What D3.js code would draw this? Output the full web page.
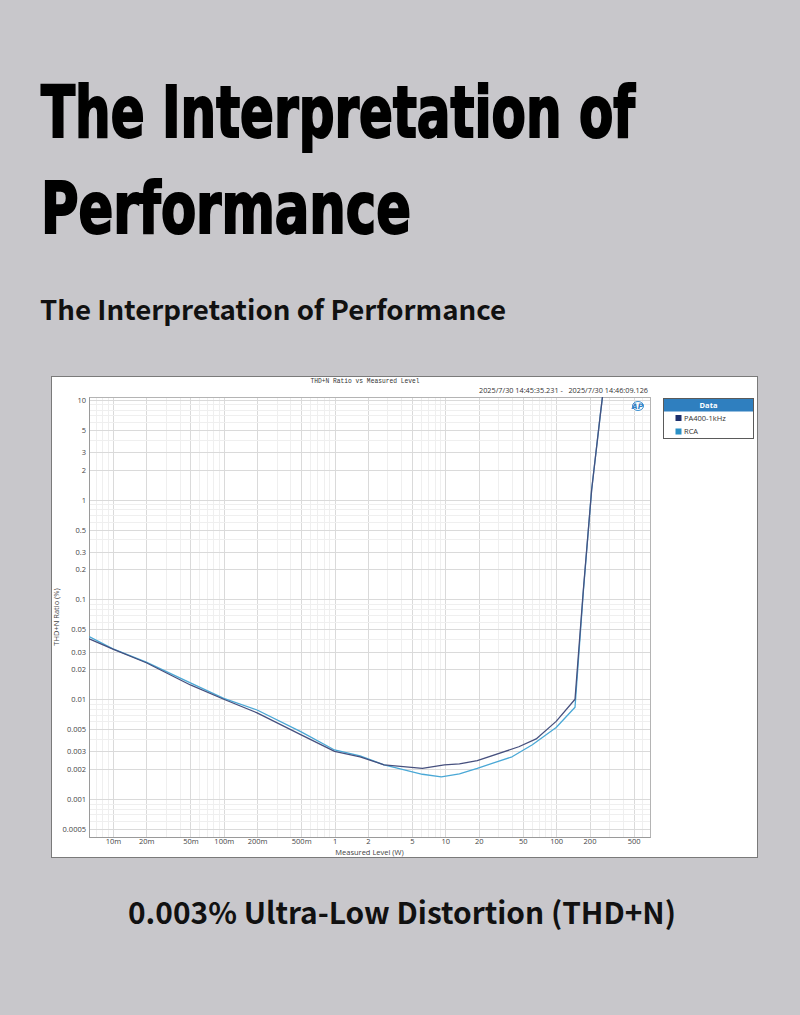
<!DOCTYPE html>
<html lang="en">
<head>
  <meta charset="UTF-8">
  <title>The Interpretation of Performance</title>
  <script src="https://d3js.org/d3.v7.min.js"></script>
  <style>
    body { margin: 0; background: #c8c7cb; }
    svg { display: block; }
  </style>
</head>
<body>
  <svg id="page" width="800" height="1015"></svg>

  <script>
    // measured level (W) and THD+N ratio (%)
    const levelsPA = [0.0061, 0.01, 0.02, 0.05, 0.1, 0.2, 0.5, 1, 1.7, 2.8, 6.2, 9.8, 13.4, 19.4, 46, 66, 100, 148, 176, 209, 250, 280];
    const thdPA = [0.0403, 0.0318, 0.0232, 0.0139, 0.0100, 0.0073, 0.0044, 0.0030, 0.00265, 0.0022, 0.00203, 0.0022, 0.00225, 0.00242, 0.00334, 0.0040, 0.0060, 0.0100, 0.125, 1.25, 7, 20];

    const levelsRCA = [0.0061, 0.01, 0.02, 0.05, 0.1, 0.2, 0.5, 1, 1.7, 2.8, 6.2, 9.2, 13.4, 19.4, 40, 61, 100, 148, 176, 209, 250, 280];
    const thdRCA = [0.0424, 0.032, 0.0235, 0.0146, 0.0102, 0.0078, 0.0047, 0.0031, 0.0027, 0.0022, 0.00177, 0.00167, 0.00179, 0.00203, 0.00265, 0.0035, 0.0052, 0.0083, 0.12, 1.25, 7, 20];

    const yTicks = [10, 5, 3, 2, 1, 0.5, 0.3, 0.2, 0.1, 0.05, 0.03, 0.02, 0.01, 0.005, 0.003, 0.002, 0.001, 0.0005];
    const xTicks = [0.01, 0.02, 0.05, 0.1, 0.2, 0.5, 1, 2, 5, 10, 20, 50, 100, 200, 500];
    const xTickLabels = ["10m", "20m", "50m", "100m", "200m", "500m", "1", "2", "5", "10", "20", "50", "100", "200", "500"];

    const seriesNames = ["PA400-1kHz", "RCA"];
    const lineColors = ["#46507e", "#4aa8d6"];
    const swatchColors = ["#1c2f6c", "#2a90c6"];

    const svg = d3.select("#page");

    // ---------- headings ----------
    svg.append("text")
      .attr("x", 41).attr("y", 137)
      .attr("font-family", "'Liberation Sans Narrow', 'DejaVu Sans Condensed', sans-serif")
      .attr("font-weight", "bold")
      .attr("font-size", 71)
      .attr("fill", "#000").attr("stroke", "#000").attr("stroke-width", 2)
      .attr("textLength", 594).attr("lengthAdjust", "spacingAndGlyphs")
      .text("The Interpretation of");

    svg.append("text")
      .attr("x", 41).attr("y", 233)
      .attr("font-family", "'Liberation Sans Narrow', 'DejaVu Sans Condensed', sans-serif")
      .attr("font-weight", "bold")
      .attr("font-size", 71)
      .attr("fill", "#000").attr("stroke", "#000").attr("stroke-width", 2)
      .attr("textLength", 370).attr("lengthAdjust", "spacingAndGlyphs")
      .text("Performance");

    svg.append("text")
      .attr("x", 40).attr("y", 320)
      .attr("font-family", "'Noto Sans CJK SC', 'Noto Sans', sans-serif")
      .attr("font-weight", "bold")
      .attr("font-size", 27)
      .attr("fill", "#111")
      .attr("textLength", 466).attr("lengthAdjust", "spacingAndGlyphs")
      .text("The Interpretation of Performance");

    svg.append("text")
      .attr("x", 128).attr("y", 924)
      .attr("font-family", "'Noto Sans CJK SC', 'Noto Sans', sans-serif")
      .attr("font-weight", "bold")
      .attr("font-size", 30)
      .attr("fill", "#111")
      .attr("textLength", 548).attr("lengthAdjust", "spacingAndGlyphs")
      .text("0.003% Ultra-Low Distortion (THD+N)");

    // ---------- chart frame ----------
    svg.append("rect")
      .attr("x", 51.5).attr("y", 376.5)
      .attr("width", 706).attr("height", 481)
      .attr("fill", "#fff").attr("stroke", "#7a7a7a");

    const plot = { left: 89, right: 650, top: 397, bottom: 837 };

    const x = d3.scaleLog().domain([0.00608, 703]).range([plot.left, plot.right]);
    const y = d3.scaleLog().domain([0.000416, 10.7]).range([plot.bottom, plot.top]);

    // grid: every 1..9 multiple, labelled ticks a bit darker
    const minorX = [];
    for (let e = -3; e <= 2; e++) for (let m = 1; m <= 9; m++) {
      const v = m * Math.pow(10, e);
      if (v > x.domain()[0] && v < x.domain()[1]) minorX.push(v);
    }
    const minorY = [];
    for (let e = -4; e <= 1; e++) for (let m = 1; m <= 9; m++) {
      const v = m * Math.pow(10, e);
      if (v > y.domain()[0] && v < y.domain()[1]) minorY.push(v);
    }

    const grid = svg.append("g");
    grid.selectAll("line.mx").data(minorX).join("line")
      .attr("class", "mx")
      .attr("x1", d => Math.round(x(d)) + 0.5).attr("x2", d => Math.round(x(d)) + 0.5)
      .attr("y1", plot.top).attr("y2", plot.bottom)
      .attr("stroke", d => xTicks.some(t => Math.abs(t - d) / t < 1e-6) ? "#dadada" : "#efefef");
    grid.selectAll("line.my").data(minorY).join("line")
      .attr("class", "my")
      .attr("y1", d => Math.round(y(d)) + 0.5).attr("y2", d => Math.round(y(d)) + 0.5)
      .attr("x1", plot.left).attr("x2", plot.right)
      .attr("stroke", d => yTicks.some(t => Math.abs(t - d) / t < 1e-6) ? "#dadada" : "#efefef");

    svg.append("rect")
      .attr("x", plot.left + 0.5).attr("y", plot.top + 0.5)
      .attr("width", plot.right - plot.left).attr("height", plot.bottom - plot.top)
      .attr("fill", "none").attr("stroke", "#b4b4b4");

    // axes
    const yAxis = svg.append("g")
      .attr("transform", `translate(${plot.left},0)`)
      .call(d3.axisLeft(y).tickValues(yTicks).tickSize(0).tickPadding(3)
        .tickFormat(d => String(+d.toPrecision(3))));
    const xAxis = svg.append("g")
      .attr("transform", `translate(0,${plot.bottom})`)
      .call(d3.axisBottom(x).tickValues(xTicks).tickSize(0).tickPadding(1.5)
        .tickFormat((d, i) => xTickLabels[i]));
    [yAxis, xAxis].forEach(a => {
      a.select(".domain").attr("stroke", "#9a9a9a");
      a.selectAll("text")
        .attr("font-family", "'Open Sans', 'Noto Sans', sans-serif")
        .attr("font-size", 7.5)
        .attr("fill", "#444");
    });

    svg.append("text")
      .attr("x", (plot.left + plot.right) / 2).attr("y", 855)
      .attr("text-anchor", "middle")
      .attr("font-family", "'Open Sans', 'Noto Sans', sans-serif")
      .attr("font-size", 7.5).attr("fill", "#444")
      .text("Measured Level (W)");

    svg.append("text")
      .attr("transform", `translate(59,${(plot.top + plot.bottom) / 2}) rotate(-90)`)
      .attr("text-anchor", "middle")
      .attr("font-family", "'Open Sans', 'Noto Sans', sans-serif")
      .attr("font-size", 7.5).attr("fill", "#444")
      .text("THD+N Ratio (%)");

    svg.append("text")
      .attr("x", 365).attr("y", 383)
      .attr("text-anchor", "middle")
      .attr("font-family", "'Liberation Mono', 'DejaVu Sans Mono', monospace")
      .attr("font-size", 7.5).attr("fill", "#333")
      .attr("textLength", 109).attr("lengthAdjust", "spacingAndGlyphs")
      .text("THD+N Ratio vs Measured Level");

    svg.append("text")
      .attr("x", 648).attr("y", 393)
      .attr("text-anchor", "end")
      .attr("font-family", "'Open Sans', 'Noto Sans', sans-serif")
      .attr("font-size", 7.5).attr("fill", "#333")
      .attr("textLength", 169).attr("lengthAdjust", "spacingAndGlyphs")
      .attr("xml:space", "preserve")
      .text("2025/7/30 14:45:35.231 -   2025/7/30 14:46:09.126");

    // AP logo
    const logo = svg.append("g").attr("transform", "translate(638,406)");
    logo.append("ellipse").attr("rx", 5.5).attr("ry", 4.5)
      .attr("fill", "none").attr("stroke", "#3a8fd0").attr("stroke-width", 1);
    logo.append("text").attr("x", -0.5).attr("y", 2.8)
      .attr("text-anchor", "middle")
      .attr("font-family", "'DejaVu Sans', sans-serif")
      .attr("font-size", 7.5).attr("font-style", "italic").attr("font-weight", "bold")
      .attr("fill", "#2f7fc6")
      .text("AP");

    // curves
    svg.append("clipPath").attr("id", "plotClip")
      .append("rect")
      .attr("x", plot.left).attr("y", plot.top)
      .attr("width", plot.right - plot.left).attr("height", plot.bottom - plot.top);

    const line = d3.line().x(d => x(d[0])).y(d => y(d[1]));
    const series = [
      d3.zip(levelsPA, thdPA),
      d3.zip(levelsRCA, thdRCA)
    ];

    svg.append("g").attr("clip-path", "url(#plotClip)")
      .selectAll("path").data([series[1], series[0]]).join("path")
      .attr("d", line)
      .attr("fill", "none")
      .attr("stroke", (d, i) => i === 0 ? lineColors[1] : lineColors[0])
      .attr("stroke-width", 1.3)
      .attr("stroke-linejoin", "round");

    // legend
    const legend = svg.append("g").attr("transform", "translate(663.5,398.5)");
    legend.append("rect").attr("width", 90).attr("height", 40)
      .attr("fill", "#fff").attr("stroke", "#5a5a5a");
    legend.append("rect").attr("x", 0.5).attr("y", 0.5).attr("width", 89).attr("height", 12.5)
      .attr("fill", "#2f7fbf");
    legend.append("text").attr("x", 45).attr("y", 9.8)
      .attr("text-anchor", "middle")
      .attr("font-family", "'Open Sans', 'Noto Sans', sans-serif")
      .attr("font-size", 7.5).attr("font-weight", "bold").attr("fill", "#fff")
      .text("Data");
    const items = legend.selectAll("g.item").data(seriesNames).join("g")
      .attr("class", "item")
      .attr("transform", (d, i) => `translate(12,${19.5 + i * 13.5})`);
    items.append("rect").attr("x", 0).attr("y", -3).attr("width", 6).attr("height", 6)
      .attr("fill", (d, i) => swatchColors[i]);
    items.append("text").attr("x", 8.5).attr("y", 2.7)
      .attr("font-family", "'Open Sans', 'Noto Sans', sans-serif")
      .attr("font-size", 7.5).attr("fill", "#333")
      .text(d => d);
  </script>
</body>
</html>
